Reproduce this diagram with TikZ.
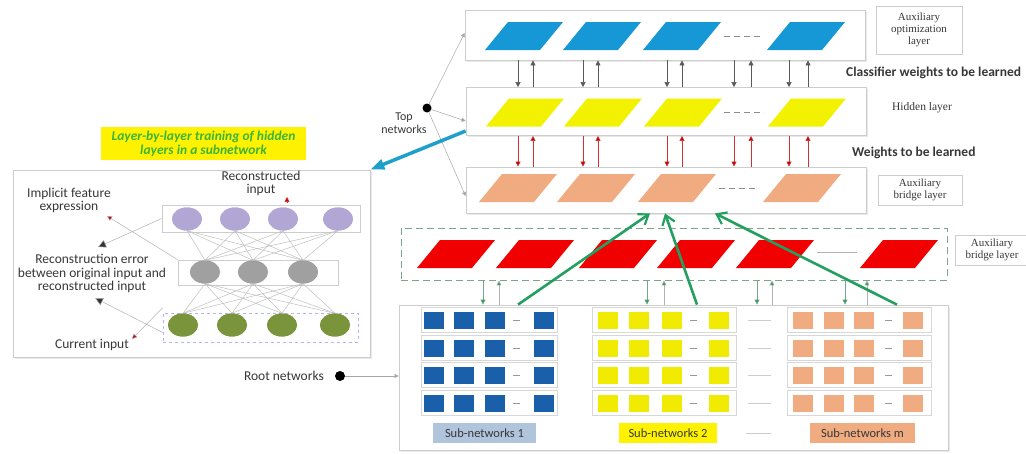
\documentclass[tikz,border=0pt]{standalone}
\usepackage{fontspec}
\setmainfont{Carlito}
\newfontfamily\serifl{Liberation Serif}
\usetikzlibrary{arrows.meta,shapes.geometric,shadows}
\definecolor{cblue}{RGB}{22,152,215}
\definecolor{cyel}{RGB}{242,242,0}
\definecolor{corg}{RGB}{240,172,128}
\definecolor{cred}{RGB}{240,0,0}
\definecolor{sqblue}{RGB}{25,95,170}
\definecolor{sqyel}{RGB}{240,235,0}
\definecolor{cpur}{RGB}{178,166,212}
\definecolor{cgry}{RGB}{160,160,160}
\definecolor{cgrn}{RGB}{122,148,60}
\definecolor{ttl}{RGB}{60,180,60}
\definecolor{boxgray}{RGB}{205,205,205}
\definecolor{agreen}{RGB}{35,160,95}
\definecolor{dgreen}{RGB}{120,165,140}
\definecolor{cteal}{RGB}{30,160,205}
\definecolor{lblue}{RGB}{176,196,220}
\definecolor{txt}{RGB}{55,55,55}
\definecolor{dred}{RGB}{192,0,0}
\begin{document}
\begin{tikzpicture}[x=1pt,y=-1pt,
  box/.style={draw=boxgray, line width=0.8pt, fill=white, inner sep=0,
              drop shadow={opacity=0.18, shadow xshift=1.5pt, shadow yshift=-1.5pt}},
  lbox/.style={draw=boxgray, line width=0.6pt, inner sep=0},
  rowbox/.style={draw=boxgray!80, line width=0.5pt, inner sep=0, minimum height=25},
  sq/.style={inner sep=0, minimum width=20, minimum height=17},
  nd/.style={ellipse, inner sep=0, minimum width=30, minimum height=23},
  lt/.style={font=\fontsize{13.5}{13.5}\selectfont, text=txt, align=center, inner sep=0},
  st/.style={font=\serifl\fontsize{11}{12}\selectfont, text=txt, align=center, inner sep=0},
  bt/.style={font=\bfseries\fontsize{13.5}{14}\selectfont, text=txt, inner sep=0},
  darr/.style={draw=black!65, line width=0.6pt, -{Triangle[length=5,width=5]}},
  rarr/.style={draw=dred!80, line width=0.6pt, -{Triangle[length=5,width=5,fill=dred]}},
  garr/.style={draw=dgreen, line width=0.6pt, -{Triangle[length=5,width=5,fill=agreen]}},
  thin/.style={draw=black!35, line width=0.5pt},
  big/.style={draw=agreen, line width=2.6pt, -{Straight Barb[length=9,width=13,line width=2.2pt]}},
  para/.pic={\fill[pic actions] (-39,14) -- (-16,-14) -- (39,-14) -- (16,14) -- cycle;},
  pdash/.style={draw=black!45, line width=0.6pt, dash pattern=on 6pt off 4pt},
  slab/.style={inner sep=0, minimum height=20, text=txt, font=\fontsize{12.5}{13}\selectfont}
]
\useasboundingbox (0,0) rectangle (1026,453);

%% ---------------- left panel ----------------
\node[box, minimum width=357, minimum height=187] (panel) at (191.5,263.5) {};
\node[fill=yellow, inner sep=0, minimum width=205, minimum height=33,
      font=\bfseries\itshape\fontsize{13.5}{14}\selectfont, text=ttl, align=center] (title) at (203.5,143.5)
      {Layer-by-layer training of hidden\\layers in a subnetwork};

\node[lbox, minimum width=198, minimum height=27] (pbox) at (261,218.5) {};
\node[lbox, minimum width=160, minimum height=25] (gbox) at (258,272.5) {};
\node[lbox, draw=blue!30, dashed, minimum width=195, minimum height=29] (qbox) at (260.5,327.5) {};

\foreach \x [count=\i] in {187,235,283,338} \node[nd, fill=cpur] (p\i) at (\x,219) {};
\foreach \x [count=\i] in {205,253,303} \node[nd, fill=cgry] (g\i) at (\x,272) {};
\foreach \x [count=\i] in {183,232,282,335} \node[nd, fill=cgrn] (q\i) at (\x,325) {};
\foreach \i in {1,...,4} \foreach \j in {1,...,3} {
  \draw[thin, draw=black!25] (p\i.south) -- (g\j.north);
  \draw[thin, draw=black!25] (q\i.north) -- (g\j.south);
}
\foreach \i in {1,...,4} {\node[nd, fill=cpur] at (p\i) {}; \node[nd, fill=cgrn] at (q\i) {};}
\foreach \i in {1,...,3} \node[nd, fill=cgry] at (g\i) {};

\node[lt] (recin) at (261,183.5) {Reconstructed\\input};
\node[lt] (impl) at (69,200.5) {Implicit feature\\expression};
\node[lt] (recerr) at (92,273.5) {Reconstruction error\\between original input and\\reconstructed input};
\node[lt] (curin) at (92,345) {Current input};

\coordinate (ra) at (287,197);
\draw[rarr] ([yshift=-6]ra) -- (ra);
\coordinate (ia) at (107,216);
\draw[thin, -{Triangle[length=5,width=5,fill=dred]}, draw=black!30] (gbox.north west) -- (ia);
\coordinate (ea) at (98,247);
\draw[thin, -{Triangle[length=8,width=8,fill=black!80]}, draw=black!30] (pbox.west) -- (ea);
\coordinate (eb) at (95,298);
\draw[thin, -{Triangle[length=8,width=8,fill=black!80]}, draw=black!30] ([yshift=-5]qbox.west) -- (eb);
\coordinate (ca) at (132,339);
\draw[thin, -{Triangle[length=5,width=5,fill=dred]}, draw=black!30] ([yshift=5]qbox.north west) -- (ca);

%% ---------------- top networks ----------------
\node[box, minimum width=400, minimum height=50] (opt) at (665,35) {};
\node[box, minimum width=400, minimum height=48] (hid) at (666,111.5) {};
\node[box, minimum width=400, minimum height=46] (brg) at (666,190) {};

\foreach \x in {524,602,682,806} \pic[fill=cblue] at (\x,36) {para};
\foreach \x in {525,603,683,807} \pic[fill=cyel] at (\x,112.5) {para};
\foreach \x in {518,596,677,802} \pic[fill=corg] at (\x,188) {para};
\draw[pdash] (724,36) -- (764,36);
\draw[pdash] (724,112.5) -- (764,112.5);
\draw[pdash] (719,188) -- (759,188);

\foreach \xd/\xu in {518/533,583/598,667/682,734/751,789/808} {
  \draw[darr] (\xd,0 |- opt.south) -- (\xd,0 |- hid.north);
  \draw[darr] (\xu,0 |- hid.north) -- (\xu,0 |- opt.south);
  \draw[rarr] (\xd,0 |- hid.south) -- (\xd,0 |- brg.north);
  \draw[rarr] (\xu,0 |- brg.north) -- (\xu,0 |- hid.south);
}

\node[lbox, minimum width=86, minimum height=48] (optlab) at (919,30) {};
\node[st] at (optlab) {Auxiliary\\optimization\\layer};
\node[bt, anchor=west] (cw) at (846,73) {Classifier weights to be learned};
\node[st, font=\serifl\fontsize{11.5}{12}\selectfont] (hidlab) at (922,108) {Hidden layer};
\node[bt, anchor=west] (wl) at (852,153) {Weights to be learned};
\node[lbox, minimum width=84, minimum height=30] (brglab) at (920,190) {};
\node[st] at (brglab) {Auxiliary\\bridge layer};

\node[circle, fill=black, inner sep=0, minimum size=9] (topdot) at (427,108) {};
\node[lt, font=\fontsize{12}{12.5}\selectfont] (toplab) at (404,123) {Top\\networks};
\draw[thin, -{Triangle[length=4,width=4]}] (topdot) -- (opt.west |- 0,33);
\draw[thin, -{Triangle[length=4,width=4]}] (topdot) -- (hid.west |- 0,121);
\draw[thin, -{Triangle[length=4,width=4]}] (topdot) -- (brg.west |- 0,196);
\draw[draw=cteal, line width=3.5pt, -{Triangle[length=14,width=10]}] (hid.west |- 0,131) -- (panel.north east);

%% ---------------- auxiliary bridge (red) ----------------
\node[draw=dgreen, line width=0.9pt, dash pattern=on 7pt off 4pt, inner sep=0,
      minimum width=546, minimum height=52] (rbr) at (674,254) {};
\foreach \x in {456,535,618,696,775,899} \pic[fill=cred] at (\x,254) {para};
\draw[draw=black!30, line width=0.5pt] (817,252) -- (857,252);
\node[lbox, minimum width=74, minimum height=30] (rbrlab) at (992,250) {};
\node[st] at (rbrlab) {Auxiliary\\bridge layer};

%% ---------------- root networks ----------------
\node[box, minimum width=549, minimum height=145] (sub) at (673.5,377.5) {};

\foreach \xd/\xu in {483/499,647/664,757/772,845/867} {
  \draw[garr] (\xd,0 |- rbr.south) -- (\xd,0 |- sub.north);
  \draw[garr, draw=black!30] (\xu,0 |- sub.north) -- (\xu,0 |- rbr.south);
}

\foreach \r [count=\k] in {320,348,375,403} {
  \node[rowbox, minimum width=136] (rb\k) at (489,\r) {};
  \node[rowbox, minimum width=144] (ry\k) at (664,\r) {};
  \node[rowbox, minimum width=144] (ro\k) at (859,\r) {};
  \foreach \x [count=\i] in {434,464,495,544} \node[sq, fill=sqblue] (b\k\i) at (\x,\r) {};
  \foreach \x [count=\i] in {608,639,672,719} \node[sq, fill=sqyel] (y\k\i) at (\x,\r) {};
  \foreach \x [count=\i] in {803,834,864,913} \node[sq, fill=corg] (o\k\i) at (\x,\r) {};
  \draw[draw=black!40, line width=0.6pt] (513,\r) -- (520,\r);
  \draw[draw=black!40, line width=0.6pt] (690,\r) -- (697,\r);
  \draw[draw=black!40, line width=0.6pt] (885,\r) -- (892,\r);
  \draw[draw=black!20, line width=0.6pt] (748,\r) -- (771,\r);
}

\node[slab, fill=lblue, minimum width=103] (s1) at (484.5,433) {Sub-networks 1};
\node[slab, fill=yellow, minimum width=98] (s2) at (668,433) {Sub-networks 2};
\node[slab, fill=corg, minimum width=105] (sm) at (862.5,433) {Sub-networks m};
\draw[draw=black!20, line width=0.6pt] (746,433) -- (771,433);

\node[circle, fill=black, inner sep=0, minimum size=10] (rootdot) at (340,376) {};
\node[lt, anchor=east] (rootlab) at (324,376) {Root networks};
\draw[thin, -{Triangle[length=4,width=4]}] (rootdot) -- (sub.west |- rootdot);

%% green arrows
\draw[big] (518,0 |- sub.north) -- (650,0 |- brg.south);
\draw[big] (697,0 |- sub.north) -- (665,0 |- brg.south);
\draw[big] (897,0 |- sub.north) -- (715,0 |- brg.south);
\end{tikzpicture}
\end{document}
